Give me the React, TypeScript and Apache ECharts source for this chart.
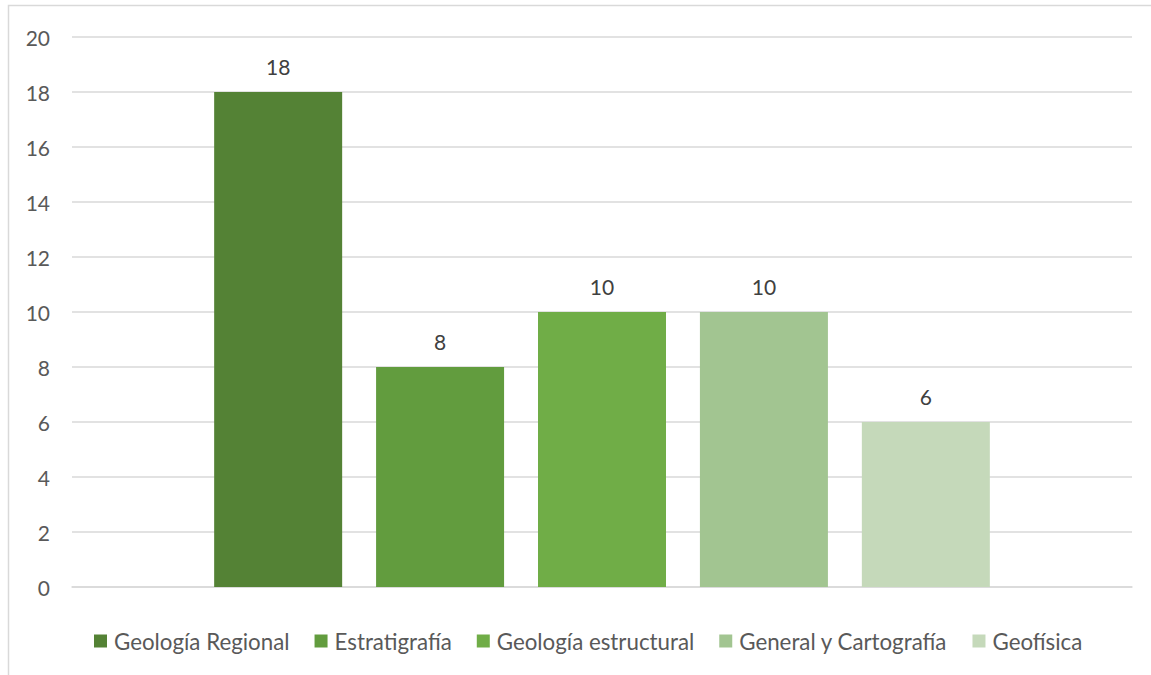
import React, { useEffect, useRef } from "react";
import * as echarts from "echarts";

const seriesNames = [
  "Geología Regional",
  "Estratigrafía",
  "Geología estructural",
  "General y Cartografía",
  "Geofísica",
];
const seriesValues = [18, 8, 10, 10, 6];
const seriesColors = ["#548235", "#629C3E", "#70AD47", "#A2C591", "#C5D9BA"];
const categories = [""];

export default function App() {
  const ref = useRef<HTMLDivElement>(null);
  useEffect(() => {
    const chart = echarts.init(ref.current!, null, { renderer: "svg" });
    const font = "Lato, 'Open Sans', sans-serif";
    chart.setOption({
      animation: false,
      backgroundColor: "#ffffff",
      textStyle: { fontFamily: font },
      graphic: [
        {
          type: "rect",
          shape: { x: 8.5, y: 5.5, width: 1300, height: 800 },
          style: { fill: "none", stroke: "#d9d9d9", lineWidth: 1.5 },
          silent: true,
          z: -10,
        },
      ],
      grid: { left: 72, right: 19, top: 37, bottom: 88, containLabel: false },
      xAxis: {
        type: "category",
        data: categories,
        axisLine: { show: true, lineStyle: { color: "#d9d9d9", width: 1.5 } },
        axisTick: { show: false },
        axisLabel: { show: false },
      },
      yAxis: {
        type: "value",
        min: 0,
        max: 20,
        interval: 2,
        axisLine: { show: false },
        axisTick: { show: false },
        axisLabel: {
          color: "#595959",
          fontSize: 21,
          fontFamily: font,
          margin: 22,
        },
        splitLine: { lineStyle: { color: "#d9d9d9", width: 1.5 } },
      },
      legend: {
        bottom: 18,
        left: 89,
        itemWidth: 13,
        itemHeight: 13,
        itemGap: 25,
        icon: "rect",
        textStyle: { color: "#595959", fontSize: 22.3, fontFamily: font, padding: [0, 0, 0, 2] },
        data: seriesNames,
      },
      series: seriesNames.map((name, i) => ({
        name,
        type: "bar",
        data: [seriesValues[i]],
        barWidth: 128,
        barGap: "26.5%",
        itemStyle: { color: seriesColors[i] },
        label: {
          show: true,
          position: "top",
          distance: 15,
          color: "#404040",
          fontSize: 21,
          fontFamily: font,
        },
      })),
    });
    return () => chart.dispose();
  }, []);
  return (
    <div
      ref={ref}
      style={{ position: "fixed", left: 0, top: 0, width: 1151, height: 675 }}
    />
  );
}
